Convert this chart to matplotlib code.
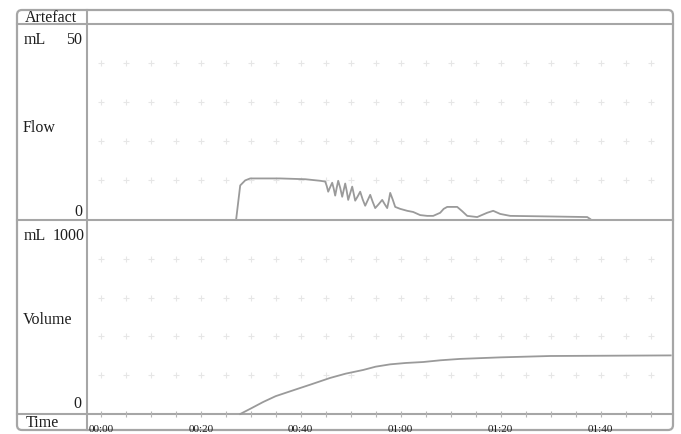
import matplotlib
matplotlib.use("Agg")
import matplotlib.pyplot as plt
from matplotlib.patches import FancyBboxPatch
import numpy as np

# ---- data ----
flow_t = [27.1, 27.9, 28.9, 29.9, 35.9, 40.9, 43.9, 44.9, 45.2, 45.5, 45.9, 46.3, 46.6,
          46.9, 47.2, 47.5, 47.9, 48.3, 48.6, 48.9, 49.2, 49.5, 49.9, 50.3, 50.6,
          50.9, 51.4, 51.9, 52.4, 52.9, 53.4, 53.9, 54.4, 54.9, 55.6, 56.3, 56.8,
          57.3, 57.6, 57.9, 58.4, 58.9, 59.9, 61.3, 62.5, 63.9, 65.3, 66.5, 67.9,
          68.6, 69.3, 71.3, 72.3, 73.3, 75.3, 77.3, 78.5, 79.9, 81.9, 89.9, 97.3, 97.9]
flow_v = [0.0, 8.6, 9.9, 10.4, 10.4, 10.2, 9.8, 9.6, 8.5, 7.0, 8.2, 9.3, 7.8,
          6.0, 8.0, 9.8, 8.0, 5.7, 7.4, 9.1, 7.2, 4.9, 6.6, 8.3, 6.5,
          4.7, 5.8, 7.0, 5.0, 3.4, 4.8, 6.2, 4.4, 2.8, 3.8, 4.9, 3.8,
          2.8, 4.6, 6.7, 5.0, 3.1, 2.6, 2.1, 1.8, 1.0, 0.8, 0.8, 1.6,
          2.6, 3.1, 3.1, 2.0, 0.8, 0.5, 1.6, 2.1, 1.3, 0.8, 0.65, 0.5, 0.0]
vol_t = [27.9, 30.0, 32.5, 35.0, 39.3, 42.0, 45.9, 49.0, 52.5, 55.0, 57.9, 61.0,
         64.5, 68.0, 71.9, 80.0, 89.9, 114.0]
vol_v = [0, 28, 62, 92, 129, 152, 186, 208, 227, 244, 256, 263,
         268, 277, 284, 292, 299, 302]

time_ticks = [0, 20, 40, 60, 80, 100]
time_labels = ["00:00", "00:20", "00:40", "01:00", "01:20", "01:40"]
flow_grid = [10, 20, 30, 40]
vol_grid = [200, 400, 600, 800]

W, H = 681, 435
fig = plt.figure(figsize=(W / 100, H / 100), dpi=100)
plt.rcParams['font.family'] = ['Liberation Serif', 'DejaVu Serif']

LINE = '#a6a6a6'
CURVE = '#9a9a9a'
TXT = '#1e1e1e'

# overlay in pixel coords for frame
ov = fig.add_axes([0, 0, 1, 1])
ov.set_xlim(0, W)
ov.set_ylim(H, 0)
ov.axis('off')
box = FancyBboxPatch((17, 11), 656, 420, boxstyle="round,pad=0,rounding_size=5",
                     fill=False, ec=LINE, lw=1.6)
ov.add_patch(box)
for y in (25, 221, 415):
    ov.plot([17, 673], [y, y], color=LINE, lw=1.5)
ov.plot([87, 87], [11, 431], color=LINE, lw=1.5)

fs = 11.5
ov.text(25, 18, "Artefact", fontsize=fs, color=TXT, va='center', ha='left')
ov.text(24, 40, "mL", fontsize=fs, color=TXT, va='center', ha='left')
ov.text(82, 40, "50", fontsize=fs, color=TXT, va='center', ha='right')
ov.text(23, 128, "Flow", fontsize=fs, color=TXT, va='center', ha='left')
ov.text(82, 212, "0", fontsize=fs, color=TXT, va='center', ha='right')
ov.text(24, 236, "mL", fontsize=fs, color=TXT, va='center', ha='left')
ov.text(85, 236, "1000", fontsize=fs, color=TXT, va='center', ha='right')
ov.text(23, 320, "Volume", fontsize=fs, color=TXT, va='center', ha='left')
ov.text(81, 404, "0", fontsize=fs, color=TXT, va='center', ha='right')
ov.text(26, 423, "Time", fontsize=fs, color=TXT, va='center', ha='left')

x0 = (87 - 100.7) / 5.0
x1 = (673 - 100.7) / 5.0

def fx(px):
    return px / W

def fy(py):
    return 1 - py / H

axf = fig.add_axes([fx(87), fy(220), fx(673) - fx(87), fy(25) - fy(220)])
axv = fig.add_axes([fx(87), fy(415), fx(673) - fx(87), fy(221) - fy(415)])

for ax in (axf, axv):
    ax.set_facecolor('none')
    for s in ax.spines.values():
        s.set_visible(False)
    ax.set_xlim(x0, x1)
    ax.set_yticks([])

gx = np.arange(0, 115, 5)
for g in flow_grid:
    axf.scatter(gx, [g] * len(gx), marker='+', s=14, color='#e6e6e6', lw=0.8, zorder=1)
for g in vol_grid:
    axv.scatter(gx, [g] * len(gx), marker='+', s=14, color='#e6e6e6', lw=0.8, zorder=1)

axf.set_ylim(0, 50)
axf.plot(flow_t, flow_v, color=CURVE, lw=1.3, zorder=3)
axf.set_xticks([])

axv.set_ylim(0, 1000)
axv.plot(vol_t, vol_v, color=CURVE, lw=1.3, zorder=3, clip_on=False)
axv.set_xticks(time_ticks)
axv.set_xticklabels(time_labels)
axv.set_xticks(np.arange(0, 115, 5), minor=True)
axv.tick_params(axis='x', which='both', direction='inout', length=4, width=0.8,
                color='#b5b5b5', labelsize=8, labelcolor=TXT, pad=5)

fig.savefig("out.png", dpi=100)
